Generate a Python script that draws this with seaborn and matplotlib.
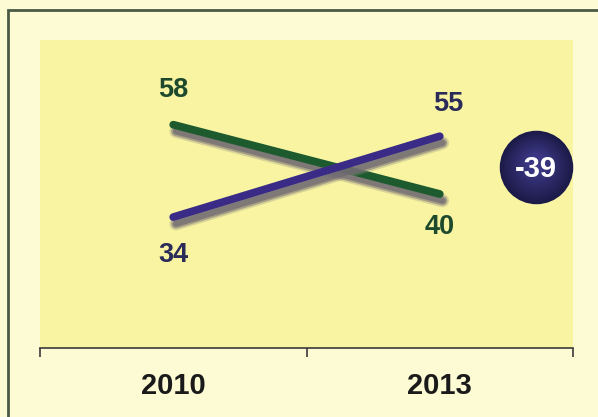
import matplotlib
matplotlib.use("Agg")
import matplotlib.pyplot as plt
import matplotlib.patheffects as pe
from matplotlib.patches import Rectangle
import matplotlib.colors as mcolors
import seaborn as sns
import pandas as pd
import numpy as np

years = ["2010", "2013"]
series_names = ["Green", "Purple"]
green_values = [58, 40]
purple_values = [34, 55]
change_label = "-39"

line_colors = {"Green": "#1d5a2e", "Purple": "#3a2c86"}
text_colors = {"Green": "#1d4a2c", "Purple": "#2b2b5a"}

df = pd.DataFrame({
    "pos": list(range(len(years))) * 2,
    "year": years * 2,
    "value": green_values + purple_values,
    "series": [series_names[0]] * len(years) + [series_names[1]] * len(years),
})

sns.set_theme(style="white")
plt.rcParams["font.family"] = ["Liberation Sans", "DejaVu Sans"]

fig = plt.figure(figsize=(5.98, 4.17), dpi=100)
fig.patch.set_facecolor("#fcfbd4")
ax = fig.add_axes([40 / 598, 1 - 348 / 417, 533 / 598, 308 / 417])
ax.set_facecolor("#f8f4a2")

shadow = [pe.SimpleLineShadow(offset=(2.0, -4.8), shadow_color="#8f877c", alpha=0.3, linewidth=9.5),
          pe.SimpleLineShadow(offset=(2.0, -4.8), shadow_color="#7c7578", alpha=0.55, linewidth=7),
          pe.SimpleLineShadow(offset=(2.0, -4.8), shadow_color="#6e6872", alpha=0.7, linewidth=4.5),
          pe.Normal()]

sns.lineplot(data=df, x="pos", y="value", hue="series", palette=line_colors,
             linewidth=5.6, ax=ax, legend=False, sort=False)
for ln in ax.get_lines():
    ln.set_solid_capstyle("round")
    ln.set_path_effects(shadow)

ax.set_xlim(-0.5, 1.5)
ax.set_ylim(0, 80)

# labels
offsets = {("Green", 0): (0, 25), ("Green", 1): (0, -24),
           ("Purple", 0): (0, -27), ("Purple", 1): (6, 23)}
for _, r in df.iterrows():
    dx, dy = offsets[(r["series"], r["pos"])]
    ax.annotate(str(r["value"]), (r["pos"], r["value"]), xytext=(dx, dy),
                textcoords="offset points", ha="center", va="center",
                fontsize=19.5, fontweight="bold", color=text_colors[r["series"]])

# change bubble with soft radial shading
edge_c = np.array(mcolors.to_rgb("#1c1a48"))
center_c = np.array(mcolors.to_rgb("#3b3784"))
n = 14
for i in range(n):
    t = i / (n - 1)
    size = 2800 * (1 - 0.75 * t) ** 2
    col = edge_c * (1 - t) + center_c * t
    ax.scatter([1.36], [47 + 1.2 * t], s=size, color=col, linewidths=0,
               zorder=5, clip_on=False)
ax.text(1.36, 46.5, change_label, ha="center", va="center", fontsize=21,
        fontweight="bold", color="white", zorder=6)

# axes styling
for s in ["top", "right", "left"]:
    ax.spines[s].set_visible(False)
ax.spines["bottom"].set_color("#3a3a3a")
ax.spines["bottom"].set_linewidth(1.2)
ax.set_yticks([])
ax.set_xticks(range(len(years)))
ax.set_xticklabels(years, fontsize=21, fontweight="bold", color="#1a1a1a")
ax.tick_params(axis="x", which="major", length=0, pad=17)
ax.set_xticks([-0.5, 0.5, 1.5], minor=True)
ax.tick_params(axis="x", which="minor", length=6.5, width=1.2, color="#3a3a3a", direction="out", bottom=True)
ax.set_xlabel("")
ax.set_ylabel("")

# outer frame
fig.add_artist(Rectangle((8 / 598, -0.2), 1.5, 1.2 - 10 / 417, transform=fig.transFigure,
                         fill=False, edgecolor="#4b5a45", linewidth=2, clip_on=False))

fig.savefig("out.png", dpi=100, facecolor=fig.get_facecolor())
